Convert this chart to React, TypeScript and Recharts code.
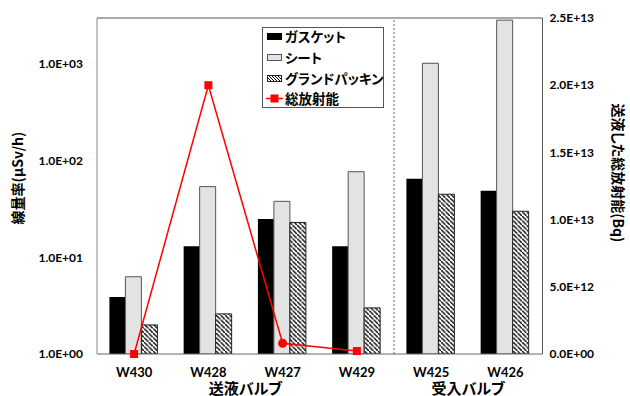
import React from 'react'
import {
  ComposedChart,
  Bar,
  Line,
  XAxis,
  YAxis,
  ReferenceLine,
} from 'recharts'

const categories = ['W430', 'W428', 'W427', 'W429', 'W425', 'W426']
const gasket = [3.9, 13, 25, 13, 65, 49]
const sheet = [6.3, 54, 38, 77, 1020, 2850]
const gland = [2.0, 2.6, 23, 3.0, 45, 30]
const totalActivity: (number | null)[] = [0, 2.0e13, 8.0e11, 2.2e11, null, null]

const leftTicks = [1, 10, 100, 1000]
const minorTicks = [1.24, 3.1, 7.8, 19.6, 49, 122, 306, 770, 1920]
const rightTicks = [0, 5e12, 1e13, 1.5e13, 2e13, 2.5e13]

// valve groups: label, first and last category index
const groupNames = ['送液バルブ', '受入バルブ']
const groupFrom = [0, 4]
const groupTo = [3, 5]

const seriesNames = ['ガスケット', 'シート', 'グランドパッキン', '総放射能']

const chartData = categories.map((name, i) => ({
  name,
  gasket: gasket[i],
  sheet: sheet[i],
  gland: gland[i],
  total: totalActivity[i],
}))

const LATIN = 'Lato, "Noto Sans CJK JP", sans-serif'
const CJK = '"Noto Sans CJK JP", sans-serif'

function sci(v: number) {
  const [m, e] = v.toExponential(1).split('e')
  const sign = e[0]
  const digits = e.slice(1).padStart(2, '0')
  return `${m}E${sign}${digits}`
}

function ActivityDot(props: any) {
  const { cx, cy, index } = props
  if (cx == null || cy == null) return <g key={index} />
  if (index === 2) {
    return <circle key={index} cx={cx} cy={cy} r={4.5} fill="#ff0000" />
  }
  return <rect key={index} x={cx - 4} y={cy - 4} width={8} height={8} fill="#ff0000" />
}

function GroupTick(props: any) {
  const { x, y, payload, index } = props
  const g = groupFrom.indexOf(index)
  if (g < 0) return <g />
  const half = payload.offset || 0
  const cx = x + (groupTo[g] - groupFrom[g]) * half
  return (
    <text
      x={cx}
      y={y + 3.5}
      textAnchor="middle"
      dominantBaseline="central"
      fontFamily={CJK}
      fontWeight="bold"
      fontSize={15}
      fill="#000"
      style={{ fontFeatureSettings: '"palt"' }}
    >
      {groupNames[g]}
    </text>
  )
}

function LeftTitle(props: any) {
  const { viewBox } = props
  const x = viewBox.x + 17
  const y = viewBox.y + viewBox.height / 2 - 8
  return (
    <text
      x={x}
      y={y}
      transform={`rotate(-90, ${x}, ${y})`}
      textAnchor="middle"
      dominantBaseline="central"
      fontFamily={CJK}
      fontWeight="bold"
      fontSize={14}
      fill="#000"
      style={{ fontFeatureSettings: '"palt"' }}
    >
      線量率(μSv/h)
    </text>
  )
}

function RightTitle(props: any) {
  const { viewBox } = props
  const x = viewBox.x + viewBox.width - 11
  const y = viewBox.y + viewBox.height / 2 - 13
  return (
    <text
      x={x}
      y={y}
      transform={`rotate(90, ${x}, ${y})`}
      textAnchor="middle"
      dominantBaseline="central"
      fontFamily={CJK}
      fontWeight="bold"
      fontSize={14}
      fill="#000"
      style={{ fontFeatureSettings: '"palt"' }}
    >
      送液した総放射能(Bq)
    </text>
  )
}

function LegendBox() {
  const icon = (i: number) => {
    if (i === 0) return <rect x={1} y={5} width={15} height={7} fill="#000" />
    if (i === 1) return <rect x={1.5} y={5.5} width={14} height={6} fill="#e3e3e3" stroke="#555" />
    if (i === 2) return <rect x={1.5} y={5.5} width={14} height={6} fill="url(#hatchLegend)" stroke="#222" />
    return (
      <g>
        <line x1={0} y1={8.5} x2={17} y2={8.5} stroke="#ff0000" strokeWidth={1.5} />
        <rect x={4.5} y={4.5} width={8} height={8} fill="#ff0000" />
      </g>
    )
  }
  const tops = [0, 21, 42, 62]
  return (
    <div
      style={{
        position: 'absolute',
        left: 262,
        top: 27,
        width: 122,
        height: 81,
        boxSizing: 'border-box',
        border: '1px solid #555',
        background: '#fff',
      }}
    >
      <svg width={0} height={0} style={{ position: 'absolute' }}>
        <defs>
          <pattern id="hatchLegend" patternUnits="userSpaceOnUse" width={3} height={3}>
            <rect width={3} height={3} fill="#fff" />
            <path d="M-1,-1 l2,2 M0,0 l3,3 M2,2 l2,2" stroke="#000" strokeWidth={1} />
          </pattern>
        </defs>
      </svg>
      {seriesNames.map((n, i) => (
        <div
          key={n}
          style={{
            position: 'absolute',
            left: 3,
            top: tops[i],
            height: 16,
            display: 'flex',
            alignItems: 'center',
          }}
        >
          <svg width={19} height={16} style={{ flex: 'none' }}>
            {icon(i)}
          </svg>
          <span
            style={{
              fontFamily: CJK,
              fontWeight: 'bold',
              fontSize: 13.5,
              lineHeight: '16px',
              color: '#000',
              fontFeatureSettings: '"palt"',
              whiteSpace: 'nowrap',
            }}
          >
            {n}
          </span>
        </div>
      ))}
    </div>
  )
}

export default function App() {
  return (
    <div style={{ position: 'relative', width: 630, height: 396, background: '#fff' }}>
      <style>{'body{margin:0}'}</style>
      <ComposedChart
        width={630}
        height={396}
        data={chartData}
        margin={{ top: 18, right: 0, bottom: 0, left: 0 }}
        barCategoryGap="16.7%"
        barGap={0}
      >
        <defs>
          <pattern id="hatch" patternUnits="userSpaceOnUse" width={4.5} height={4.5}>
            <rect width={4.5} height={4.5} fill="#fff" />
            <path d="M-1,-1 l2,2 M0,0 l4.5,4.5 M3.5,3.5 l2,2" stroke="#000" strokeWidth={1.4} />
          </pattern>
        </defs>
        <XAxis
          xAxisId="cat"
          dataKey="name"
          height={20}
          tickLine={false}
          tickSize={0}
          tickMargin={14}
          axisLine={{ stroke: '#666' }}
          tick={{ fontFamily: LATIN, fontWeight: 'bold', fontSize: 13, fill: '#000' }}
        />
        <XAxis
          xAxisId="grp"
          dataKey="name"
          height={22}
          axisLine={false}
          tickLine={false}
          tickSize={0}
          tickMargin={10}
          interval={0}
          tick={GroupTick}
        />
        <YAxis
          yAxisId="left"
          scale="log"
          domain={[1, 3000]}
          allowDataOverflow
          ticks={leftTicks}
          width={97}
          tickLine={false}
          tickSize={0}
          tickMargin={14}
          axisLine={{ stroke: '#888' }}
          tickFormatter={sci}
          tick={{ fontFamily: LATIN, fontWeight: 'bold', fontSize: 12, fill: '#000' }}
          label={{ content: LeftTitle }}
        />
        <YAxis
          yAxisId="minor"
          scale="log"
          domain={[1, 3000]}
          allowDataOverflow
          ticks={minorTicks}
          mirror
          width={0}
          tick={false}
          tickSize={4}
          axisLine={false}
          tickLine={{ stroke: '#888' }}
        />
        <YAxis
          yAxisId="right"
          orientation="right"
          domain={[0, 2.5e13]}
          ticks={rightTicks}
          width={87.5}
          tickLine={false}
          tickSize={0}
          tickMargin={7}
          axisLine={{ stroke: '#555' }}
          tickFormatter={sci}
          tick={{ fontFamily: LATIN, fontWeight: 'bold', fontSize: 12, fill: '#000' }}
          label={{ content: RightTitle }}
        />
        <YAxis
          yAxisId="rticks"
          orientation="right"
          domain={[0, 2.5e13]}
          ticks={rightTicks}
          mirror
          width={0}
          tick={false}
          tickSize={4}
          axisLine={false}
          tickLine={{ stroke: '#555' }}
        />
        <ReferenceLine yAxisId="left" xAxisId="cat" y={3000} stroke="#555" />
        <ReferenceLine
          yAxisId="left"
          xAxisId="cat"
          x="W425"
          position="start"
          stroke="#666"
          strokeDasharray="2 2"
        />
        <Bar
          xAxisId="cat"
          yAxisId="left"
          dataKey="gasket"
          name="ガスケット"
          fill="#000"
          isAnimationActive={false}
        />
        <Bar
          xAxisId="cat"
          yAxisId="left"
          dataKey="sheet"
          name="シート"
          fill="#e3e3e3"
          stroke="#555"
          strokeWidth={1}
          isAnimationActive={false}
        />
        <Bar
          xAxisId="cat"
          yAxisId="left"
          dataKey="gland"
          name="グランドパッキン"
          fill="url(#hatch)"
          stroke="#222"
          strokeWidth={1}
          isAnimationActive={false}
        />
        <Line
          xAxisId="cat"
          yAxisId="right"
          dataKey="total"
          name="総放射能"
          stroke="#ff0000"
          strokeWidth={1.5}
          dot={ActivityDot}
          activeDot={false}
          connectNulls={false}
          isAnimationActive={false}
        />
      </ComposedChart>
      <LegendBox />
    </div>
  )
}
